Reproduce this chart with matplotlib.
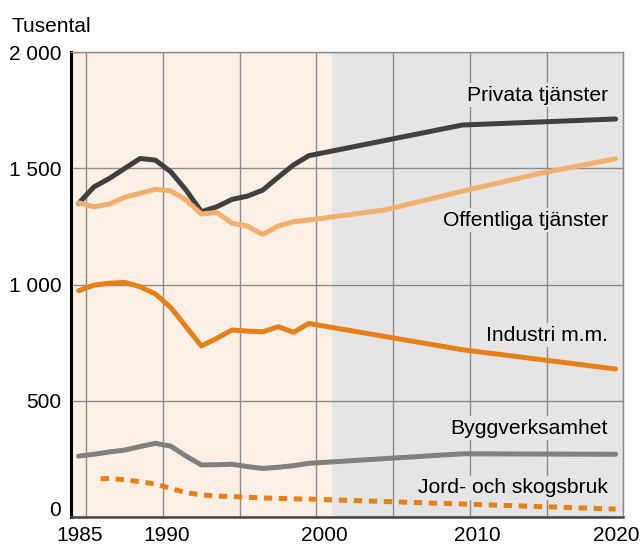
import matplotlib
matplotlib.use("Agg")
import matplotlib.pyplot as plt
from matplotlib.transforms import ScaledTranslation
import numpy as np

plt.rcParams['font.family'] = ['Liberation Sans', 'DejaVu Sans']

# ---- data (thousands of employed) ----
years_main = list(range(1984, 2000)) + [2009, 2019]
years_offentliga = list(range(1984, 2000)) + [2004, 2009, 2014, 2019]
years_jord = list(range(1985, 2000)) + [2009, 2019]

privata = [1350, 1421, 1457, 1500, 1543, 1536, 1486, 1407, 1314, 1335, 1367, 1381,
           1407, 1462, 1515, 1555, 1687, 1713]
offentliga = [1352, 1335, 1347, 1376, 1393, 1410, 1404, 1364, 1304, 1311, 1264, 1252,
              1216, 1252, 1271, 1278, 1322, 1402, 1478, 1542]
industri = [974, 998, 1006, 1010, 991, 960, 902, 819, 736, 769, 805, 800,
            797, 819, 795, 833, 720, 637]
bygg = [262, 270, 280, 288, 303, 317, 305, 262, 224, 225, 227, 217,
        209, 214, 221, 231, 272, 270]
jord = [163, 166, 160, 152, 142, 123, 105, 95, 90, 88, 85, 82, 80, 78, 77, 56, 34]

series_names = ["Privata tjänster", "Offentliga tjänster", "Industri m.m.",
                "Byggverksamhet", "Jord- och skogsbruk"]
label_values = [1816, 1278, 783, 383, 125]

xtick_years = [1985, 1990, 2000, 2010, 2020]
ytick_values = [0, 500, 1000, 1500, 2000]
ytick_labels = ["0", "500", "1 000", "1 500", "2 000"]

# ---- styling ----
peach = "#FBF0E6"
gray_bg = "#E5E5E5"
grid_c = "#8C8C8C"
c_priv = "#404040"
c_off = "#F2B06E"
c_ind = "#E8801A"
c_bygg = "#808080"

fig = plt.figure(figsize=(6.4, 5.44), dpi=100)
ax = fig.add_axes([71/640, 1-517/544, (623.3-71)/640, (517-52.3)/544])
ax.set_facecolor(peach)
ax.set_xlim(1984, 2020)
ax.set_ylim(0, 2000)

ax.axvspan(2001, 2020, color=gray_bg, zorder=0.2, lw=0)

ax.set_axisbelow(True)
ax.grid(True, color=grid_c, lw=1.0, zorder=0.5)

lw = 3.6
def pos(yrs):
    return np.array(yrs) + 0.5   # annual values drawn at mid-year

kw = dict(lw=lw, solid_capstyle='round', solid_joinstyle='round', zorder=3)
ax.plot(pos(years_main), privata, color=c_priv, **kw)
ax.plot(pos(years_offentliga), offentliga, color=c_off, **kw)
ax.plot(pos(years_main), industri, color=c_ind, **kw)
ax.plot(pos(years_main), bygg, color=c_bygg, **kw)
ax.plot(pos(years_jord), jord, color=c_ind, lw=lw, linestyle=(1.67, (1.67, 1.33)), zorder=3)

for name, v in zip(series_names, label_values):
    ax.text(2019, v, name, ha='right', va='center', fontsize=15.2, color='black', zorder=4,
            bbox=dict(boxstyle='square,pad=0.12', fc=gray_bg, ec='none'))

# ticks
ax.tick_params(length=0)
ax.set_yticks(ytick_values)
ax.set_yticklabels(ytick_labels, fontsize=15)
ax.tick_params(axis='y', pad=7)
ax.tick_params(axis='x', pad=6.5)

# x ticklabels only at selected years (gridlines every 5 years)
xt = list(range(1985, 2021, 5))
ax.set_xticks(xt)
ax.set_xticklabels([str(y) if y in xtick_years else "" for y in xt], fontsize=15)

dx_px = {1985: -7, 1990: 4, 2000: 8, 2010: 7, 2020: -7}
for y, lab in zip(xt, ax.get_xticklabels()):
    if y in dx_px:
        lab.set_transform(lab.get_transform() + ScaledTranslation(dx_px[y]/100, 0, fig.dpi_scale_trans))
for v, lab in zip(ytick_values, ax.get_yticklabels()):
    if v == 0:
        lab.set_transform(lab.get_transform() + ScaledTranslation(0, 8/100, fig.dpi_scale_trans))

# spines
ax.spines['left'].set_color('black')
ax.spines['left'].set_linewidth(2.2)
ax.spines['bottom'].set_color('#444444')
ax.spines['bottom'].set_linewidth(1.8)
for s in ['top', 'right']:
    ax.spines[s].set_color(grid_c)
    ax.spines[s].set_linewidth(1.0)

fig.text(12/640, 1-26/544, "Tusental", ha='left', va='center', fontsize=15)

fig.savefig("out.png", dpi=100)
